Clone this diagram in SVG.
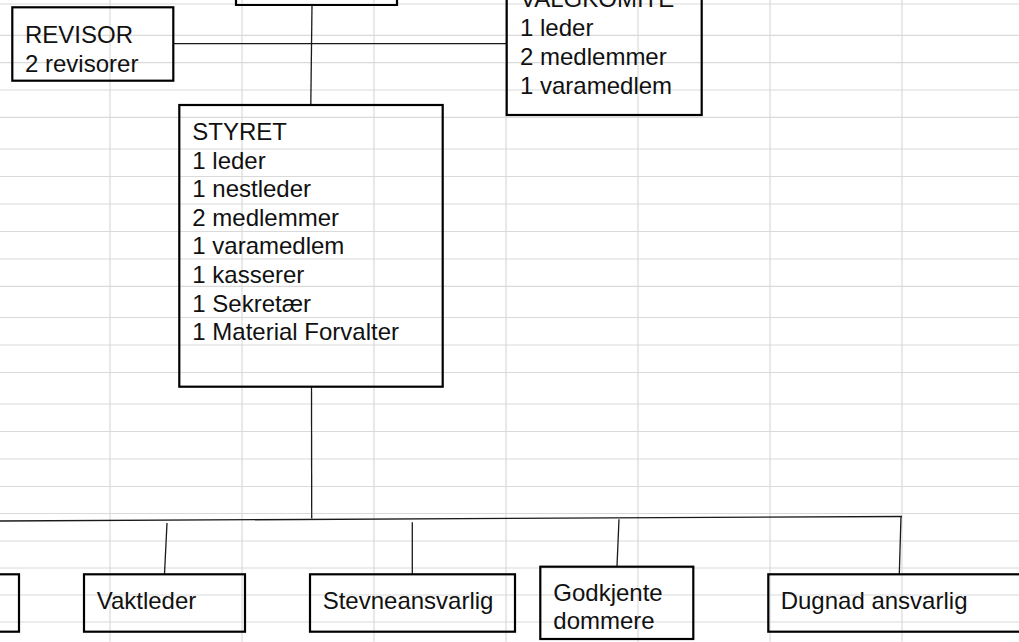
<svg xmlns="http://www.w3.org/2000/svg" width="1019" height="642" viewBox="0 0 1019 642">
<style>
.grid line{stroke:#dadada;stroke-width:1.2}
.box{fill:none;stroke:#000;stroke-width:2.2}
.conn line{stroke:#1a1a1a;stroke-width:1.3}
text{font-family:"Liberation Sans",Arial,sans-serif;font-size:24px;fill:#111}
</style>
<rect x="0" y="0" width="1019" height="642" fill="#fff"/>
<g class="grid">
<line x1="0" y1="4" x2="1019" y2="4"/>
<line x1="0" y1="35.3" x2="1019" y2="35.3"/>
<line x1="0" y1="62.7" x2="1019" y2="62.7"/>
<line x1="0" y1="90" x2="1019" y2="90"/>
<line x1="0" y1="117.3" x2="1019" y2="117.3"/>
<line x1="0" y1="149" x2="1019" y2="149"/>
<line x1="0" y1="176.5" x2="1019" y2="176.5"/>
<line x1="0" y1="204" x2="1019" y2="204"/>
<line x1="0" y1="231.5" x2="1019" y2="231.5"/>
<line x1="0" y1="259" x2="1019" y2="259"/>
<line x1="0" y1="286.3" x2="1019" y2="286.3"/>
<line x1="0" y1="317.5" x2="1019" y2="317.5"/>
<line x1="0" y1="345" x2="1019" y2="345"/>
<line x1="0" y1="372.5" x2="1019" y2="372.5"/>
<line x1="0" y1="404" x2="1019" y2="404"/>
<line x1="0" y1="431.5" x2="1019" y2="431.5"/>
<line x1="0" y1="459" x2="1019" y2="459"/>
<line x1="0" y1="486.5" x2="1019" y2="486.5"/>
<line x1="0" y1="513.5" x2="1019" y2="513.5"/>
<line x1="0" y1="541" x2="1019" y2="541"/>
<line x1="0" y1="568" x2="1019" y2="568"/>
<line x1="0" y1="595" x2="1019" y2="595"/>
<line x1="0" y1="622" x2="1019" y2="622"/>
<line x1="110" y1="0" x2="110" y2="642"/>
<line x1="242" y1="0" x2="242" y2="642"/>
<line x1="374" y1="0" x2="374" y2="642"/>
<line x1="506" y1="0" x2="506" y2="642"/>
<line x1="638" y1="0" x2="638" y2="642"/>
<line x1="770" y1="0" x2="770" y2="642"/>
<line x1="902" y1="0" x2="902" y2="642"/>
</g>
<g id="connectors" class="conn">
<line x1="312" y1="5" x2="310.8" y2="105"/>
<line x1="173" y1="43.7" x2="506.5" y2="43.7"/>
<line x1="311.5" y1="387" x2="311.7" y2="518.5"/>
<line x1="0" y1="521" x2="902" y2="516.5"/>
<line x1="167" y1="523" x2="164.5" y2="574"/>
<line x1="412.3" y1="522.3" x2="412.3" y2="574"/>
<line x1="619" y1="519.3" x2="617" y2="566"/>
<line x1="901" y1="516" x2="899.3" y2="574"/>
</g>
<g id="top-node">
<polyline class="box" points="236,-2 236,5 397,5 397,-2"/>
</g>
<g id="revisor">
<rect class="box" x="12.3" y="7.3" width="161" height="73.4"/>
<text x="25" y="42.7">REVISOR</text>
<text x="25" y="71.7">2 revisorer</text>
</g>
<g id="valgkomite">
<rect class="box" x="506.7" y="-10" width="195" height="125"/>
<text x="520" y="7.3">VALGKOMITE</text>
<text x="520" y="36">1 leder</text>
<text x="520" y="65">2 medlemmer</text>
<text x="520" y="93.5">1 varamedlem</text>
</g>
<g id="styret">
<rect class="box" x="179.3" y="105" width="263.4" height="281.7"/>
<text x="192.3" y="140">STYRET</text>
<text x="192.3" y="168.5">1 leder</text>
<text x="192.3" y="197">1 nestleder</text>
<text x="192.3" y="225.5">2 medlemmer</text>
<text x="192.3" y="254">1 varamedlem</text>
<text x="192.3" y="282.5">1 kasserer</text>
<text x="192.3" y="311.5">1 Sekretær</text>
<text x="192.3" y="340">1 Material Forvalter</text>
</g>
<g id="left-partial">
<rect class="box" x="-20" y="574.3" width="39" height="57.4"/>
</g>
<g id="vaktleder">
<rect class="box" x="84" y="574.3" width="161" height="57.4"/>
<text x="96.7" y="609.3">Vaktleder</text>
</g>
<g id="stevneansvarlig">
<rect class="box" x="310" y="574.3" width="205" height="57.4"/>
<text x="322.7" y="609.3">Stevneansvarlig</text>
</g>
<g id="godkjente">
<rect class="box" x="540.3" y="566.7" width="153" height="72.3"/>
<text x="553.3" y="600.7">Godkjente</text>
<text x="553.3" y="629">dommere</text>
</g>
<g id="dugnad">
<rect class="box" x="768.3" y="574.3" width="270" height="57.4"/>
<text x="780.7" y="609.3">Dugnad ansvarlig</text>
</g>
</svg>
